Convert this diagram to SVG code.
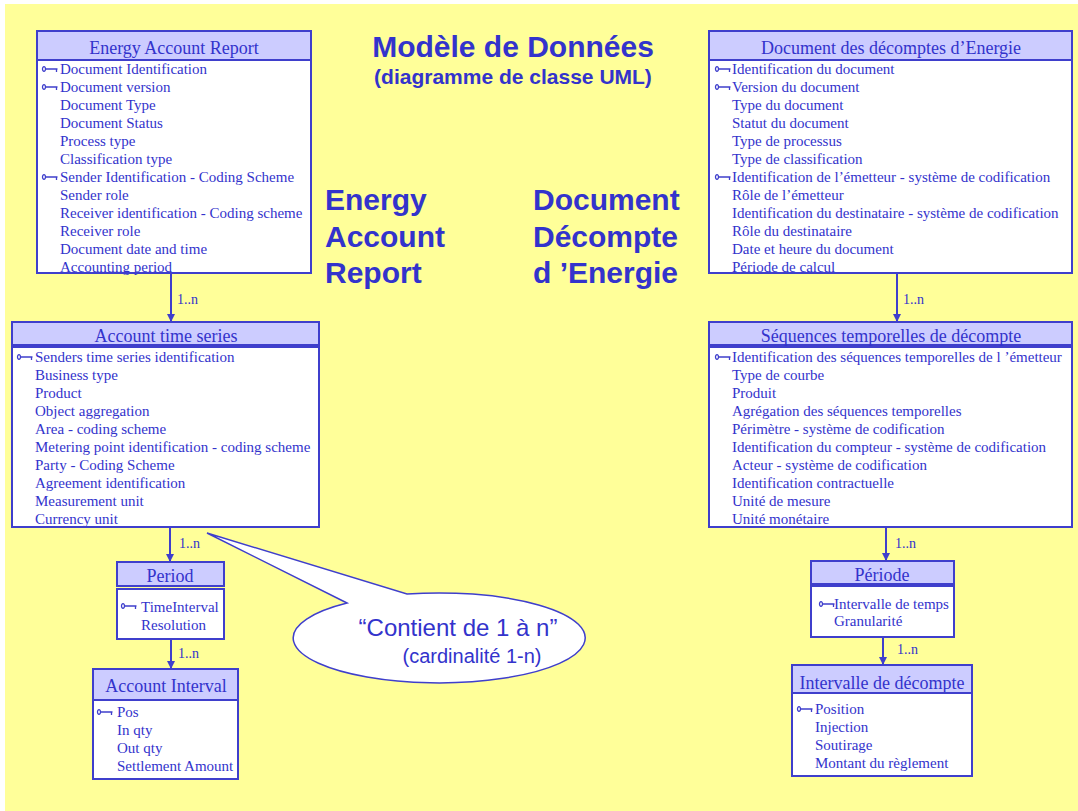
<svg xmlns="http://www.w3.org/2000/svg" xmlns:xlink="http://www.w3.org/1999/xlink" width="1078" height="811" viewBox="0 0 1078 811">
<style>
.hdr{fill:#CCCCFF;stroke:#3F3FCC;stroke-width:2}
.body{fill:#FFFFFF}
.frame{fill:none;stroke:#3F3FCC;stroke-width:2}
.ht{font-family:"Liberation Serif",serif;font-size:18px;fill:#3333CC;text-anchor:middle}
.at{font-family:"Liberation Serif",serif;font-size:15px;fill:#3333CC}
.lbl{font-family:"Liberation Serif",serif;font-size:14px;fill:#3333CC}
.big{font-family:"Liberation Sans",Arial,sans-serif;font-weight:bold;fill:#3333CC}
.conn{stroke:#3F3FCC;stroke-width:2;fill:none}
.key{stroke:#3F3FCC;stroke-width:1.3;fill:none}
</style>
<defs>
<marker id="arr" viewBox="0 0 10 10" refX="10" refY="5" markerWidth="4" markerHeight="4" orient="auto" markerUnits="strokeWidth">
<path d="M0,0 L10,5 L0,10 Z" fill="#3F3FCC"/>
</marker>
<g id="k">
<ellipse cx="2" cy="0" rx="1.5" ry="2.4" class="key"/>
<path d="M3.5,0 H15.5 M14.5,0 V3" class="key"/>
</g>
</defs>
<rect x="5" y="4" width="1073" height="807" fill="#FFFF99"/>

<g id="title">
<text class="big" x="513" y="57" font-size="30" text-anchor="middle">Modèle de Données</text>
<text class="big" x="513" y="84" font-size="21" text-anchor="middle">(diagramme de classe UML)</text>
</g>
<g id="label-en">
<text class="big" x="325" y="210" font-size="30">Energy</text>
<text class="big" x="325" y="247" font-size="30">Account</text>
<text class="big" x="325" y="283" font-size="30">Report</text>
</g>
<g id="label-fr">
<text class="big" x="533" y="210" font-size="30">Document</text>
<text class="big" x="533" y="247" font-size="30">Décompte</text>
<text class="big" x="533" y="283" font-size="30">d ’Energie</text>
</g>

<g id="connectors">
<line class="conn" x1="171" y1="273" x2="171" y2="322" marker-end="url(#arr)"/>
<text class="lbl" x="177" y="304">1..n</text>
<line class="conn" x1="897" y1="273" x2="897" y2="322" marker-end="url(#arr)"/>
<text class="lbl" x="903" y="304">1..n</text>
<line class="conn" x1="170" y1="528" x2="170" y2="562" marker-end="url(#arr)"/>
<text class="lbl" x="179" y="548">1..n</text>
<line class="conn" x1="171" y1="640" x2="171" y2="669" marker-end="url(#arr)"/>
<text class="lbl" x="178" y="658">1..n</text>
<line class="conn" x1="886" y1="528" x2="886" y2="561" marker-end="url(#arr)"/>
<text class="lbl" x="895" y="548">1..n</text>
<line class="conn" x1="883" y1="638" x2="883" y2="665" marker-end="url(#arr)"/>
<text class="lbl" x="897" y="654">1..n</text>
</g>

<g id="callout">
<path d="M347,603 L207,533 L407,594 A146,45 0 1 1 347,603 Z" fill="#FFFFFF" stroke="#3F3FCC" stroke-width="1.5"/>
<text x="458" y="636" font-family="Liberation Sans,Arial,sans-serif" font-size="24" fill="#3333CC" text-anchor="middle">“Contient de 1 à n”</text>
<text x="472" y="663" font-family="Liberation Sans,Arial,sans-serif" font-size="20" fill="#3333CC" text-anchor="middle">(cardinalité 1-n)</text>
</g>

<g id="energy-account-report">
<rect class="hdr" x="37" y="31" width="274" height="29"/>
<text class="ht" x="174" y="54">Energy Account Report</text>
<rect class="body" x="37" y="60" width="274" height="213"/>
<use xlink:href="#k" x="42" y="69"/>
<text class="at" x="60" y="74">Document Identification</text>
<use xlink:href="#k" x="42" y="87"/>
<text class="at" x="60" y="92">Document version</text>
<text class="at" x="60" y="110">Document Type</text>
<text class="at" x="60" y="128">Document Status</text>
<text class="at" x="60" y="146">Process type</text>
<text class="at" x="60" y="164">Classification type</text>
<use xlink:href="#k" x="42" y="177"/>
<text class="at" x="60" y="182">Sender Identification - Coding Scheme</text>
<text class="at" x="60" y="200">Sender role</text>
<text class="at" x="60" y="218">Receiver identification - Coding scheme</text>
<text class="at" x="60" y="236">Receiver role</text>
<text class="at" x="60" y="254">Document date and time</text>
<text class="at" x="60" y="272">Accounting period</text>
<rect class="frame" x="37" y="60" width="274" height="213"/>
</g>

<g id="document-decomptes">
<rect class="hdr" x="709" y="31" width="363" height="29"/>
<text class="ht" x="891" y="54">Document des décomptes d’Energie</text>
<rect class="body" x="709" y="60" width="363" height="213"/>
<use xlink:href="#k" x="715" y="69"/>
<text class="at" x="732" y="74">Identification du document</text>
<use xlink:href="#k" x="715" y="87"/>
<text class="at" x="732" y="92">Version du document</text>
<text class="at" x="732" y="110">Type du document</text>
<text class="at" x="732" y="128">Statut du document</text>
<text class="at" x="732" y="146">Type de processus</text>
<text class="at" x="732" y="164">Type de classification</text>
<use xlink:href="#k" x="715" y="177"/>
<text class="at" x="732" y="182">Identification de l’émetteur - système de codification</text>
<text class="at" x="732" y="200">Rôle de l’émetteur</text>
<text class="at" x="732" y="218">Identification du destinataire - système de codification</text>
<text class="at" x="732" y="236">Rôle du destinataire</text>
<text class="at" x="732" y="254">Date et heure du document</text>
<text class="at" x="732" y="272">Période de calcul</text>
<rect class="frame" x="709" y="60" width="363" height="213"/>
</g>

<g id="account-time-series">
<rect class="hdr" x="12" y="322" width="307" height="23"/>
<text class="ht" x="166" y="342">Account time series</text>
<rect class="body" x="12" y="347" width="307" height="180"/>
<use xlink:href="#k" x="17" y="357"/>
<text class="at" x="35" y="362">Senders time series identification</text>
<text class="at" x="35" y="380">Business type</text>
<text class="at" x="35" y="398">Product</text>
<text class="at" x="35" y="416">Object aggregation</text>
<text class="at" x="35" y="434">Area - coding scheme</text>
<text class="at" x="35" y="452">Metering point identification - coding scheme</text>
<text class="at" x="35" y="470">Party - Coding Scheme</text>
<text class="at" x="35" y="488">Agreement identification</text>
<text class="at" x="35" y="506">Measurement unit</text>
<text class="at" x="35" y="524">Currency unit</text>
<rect class="frame" x="12" y="347" width="307" height="180"/>
</g>

<g id="sequences-temporelles">
<rect class="hdr" x="709" y="322" width="363" height="23"/>
<text class="ht" x="891" y="342">Séquences temporelles de décompte</text>
<rect class="body" x="709" y="347" width="363" height="180"/>
<use xlink:href="#k" x="715" y="357"/>
<text class="at" x="732" y="362">Identification des séquences temporelles de l ’émetteur</text>
<text class="at" x="732" y="380">Type de courbe</text>
<text class="at" x="732" y="398">Produit</text>
<text class="at" x="732" y="416">Agrégation des séquences temporelles</text>
<text class="at" x="732" y="434">Périmètre - système de codification</text>
<text class="at" x="732" y="452">Identification du compteur - système de codification</text>
<text class="at" x="732" y="470">Acteur - système de codification</text>
<text class="at" x="732" y="488">Identification contractuelle</text>
<text class="at" x="732" y="506">Unité de mesure</text>
<text class="at" x="732" y="524">Unité monétaire</text>
<rect class="frame" x="709" y="347" width="363" height="180"/>
</g>

<g id="period">
<rect class="hdr" x="117" y="562" width="107" height="24"/>
<text class="ht" x="170" y="582">Period</text>
<rect class="body" x="117" y="589" width="107" height="50"/>
<use xlink:href="#k" x="121" y="606"/>
<text class="at" x="141" y="612">TimeInterval</text>
<text class="at" x="141" y="630">Resolution</text>
<rect class="frame" x="117" y="589" width="107" height="50"/>
</g>

<g id="periode">
<rect class="hdr" x="811" y="561" width="143" height="23"/>
<text class="ht" x="882" y="581">Période</text>
<rect class="body" x="811" y="586" width="143" height="51"/>
<use xlink:href="#k" x="819" y="604"/>
<text class="at" x="834" y="609">Intervalle de temps</text>
<text class="at" x="834" y="626">Granularité</text>
<rect class="frame" x="811" y="586" width="143" height="51"/>
</g>

<g id="account-interval">
<rect class="hdr" x="93" y="669" width="145" height="31"/>
<text class="ht" x="166" y="692">Account Interval</text>
<rect class="body" x="93" y="700" width="145" height="79"/>
<use xlink:href="#k" x="97" y="712"/>
<text class="at" x="117" y="717">Pos</text>
<text class="at" x="117" y="735">In qty</text>
<text class="at" x="117" y="753">Out qty</text>
<text class="at" x="117" y="771">Settlement Amount</text>
<rect class="frame" x="93" y="700" width="145" height="79"/>
</g>

<g id="intervalle-decompte">
<rect class="hdr" x="792" y="665" width="180" height="28"/>
<text class="ht" x="882" y="689">Intervalle de décompte</text>
<rect class="body" x="792" y="693" width="180" height="83"/>
<use xlink:href="#k" x="797" y="709"/>
<text class="at" x="815" y="714">Position</text>
<text class="at" x="815" y="732">Injection</text>
<text class="at" x="815" y="750">Soutirage</text>
<text class="at" x="815" y="768">Montant du règlement</text>
<rect class="frame" x="792" y="693" width="180" height="83"/>
</g>
</svg>
